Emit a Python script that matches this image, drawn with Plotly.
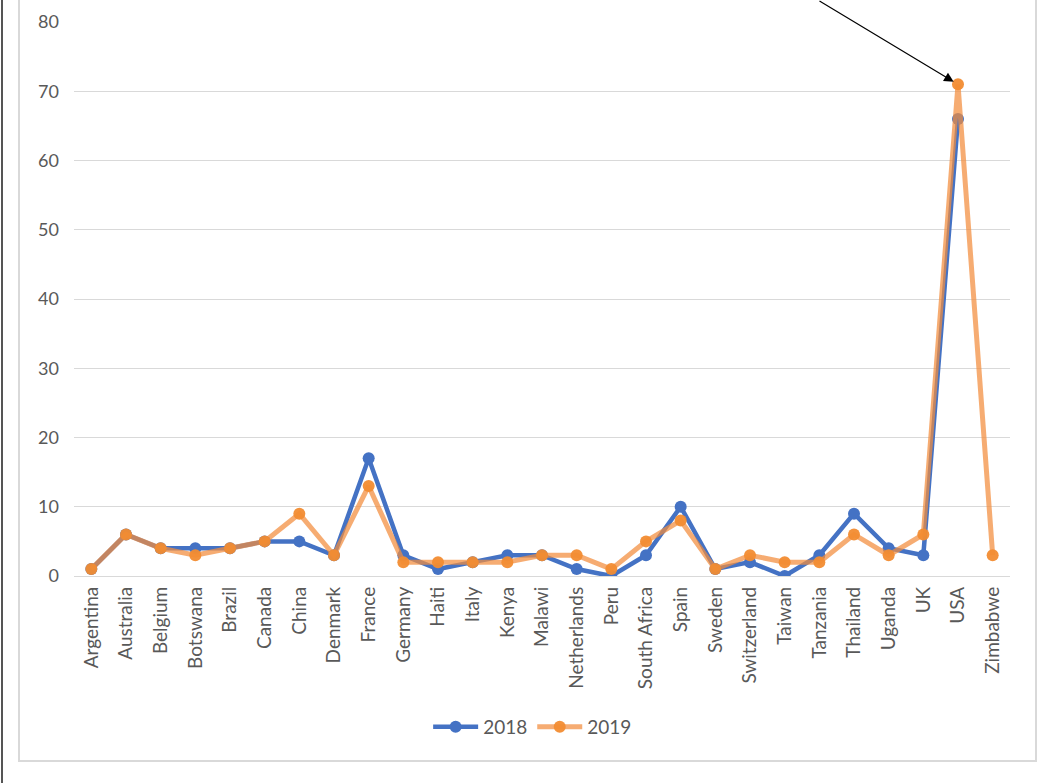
import plotly.graph_objects as go

countries = ["Argentina", "Australia", "Belgium", "Botswana", "Brazil", "Canada", "China",
             "Denmark", "France", "Germany", "Haiti", "Italy", "Kenya", "Malawi",
             "Netherlands", "Peru", "South Africa", "Spain", "Sweden", "Switzerland",
             "Taiwan", "Tanzania", "Thailand", "Uganda", "UK", "USA", "Zimbabwe"]
values_2018 = [1, 6, 4, 4, 4, 5, 5, 3, 17, 3, 1, 2, 3, 3, 1, 0, 3, 10, 1, 2, 0, 3, 9, 4, 3, 66, None]
values_2019 = [1, 6, 4, 3, 4, 5, 9, 3, 13, 2, 2, 2, 2, 3, 3, 1, 5, 8, 1, 3, 2, 2, 6, 3, 6, 71, 3]
y_ticks = [0, 10, 20, 30, 40, 50, 60, 70, 80]

W, H = 1051, 783
ML, MR, MT, MB = 74, 41, 22, 207
PW, PH = W - ML - MR, H - MT - MB

def px_x(px):
    return (px - ML) / PW

def px_y(py):
    return (H - MB - py) / PH

FONT = "Lato"
GRAY = "#595959"

fig = go.Figure()
fig.add_trace(go.Scatter(
    x=countries, y=values_2018, name="2018", mode="lines+markers",
    line=dict(color="#4472C4", width=4.5),
    marker=dict(color="#4472C4", size=12),
))
fig.add_trace(go.Scatter(
    x=countries, y=values_2019, name="2019", mode="lines+markers",
    line=dict(color="rgba(242,140,60,0.72)", width=5),
    marker=dict(color="rgba(242,140,50,0.95)", size=12),
))

fig.add_annotation(
    x="USA", y=71, xref="x", yref="y", text="", showarrow=True,
    ax=-140, ay=-85, arrowhead=2, arrowsize=1.6, arrowwidth=1.2,
    arrowcolor="black", standoff=5,
)

shapes = [
    dict(type="rect", xref="paper", yref="paper",
         x0=px_x(19), x1=px_x(1036), y0=px_y(761), y1=px_y(-10),
         line=dict(color="#D9D9D9", width=2), layer="below"),
    dict(type="line", xref="paper", yref="paper",
         x0=px_x(2), x1=px_x(2), y0=px_y(783), y1=px_y(-5),
         line=dict(color="#555555", width=2)),
]

fig.update_layout(
    width=W, height=H,
    margin=dict(l=ML, r=MR, t=MT, b=MB, autoexpand=False),
    paper_bgcolor="white", plot_bgcolor="white",
    font=dict(family=FONT, color=GRAY, size=18),
    showlegend=True,
    legend=dict(orientation="h", x=0.49, xanchor="center",
                y=px_y(727), yanchor="middle",
                font=dict(size=19, color=GRAY, family=FONT),
                itemwidth=45),
    shapes=shapes,
    xaxis=dict(
        type="category", tickangle=-90, showgrid=False, showline=False,
        ticks="", ticklabelstandoff=6, automargin=False,
        tickfont=dict(size=19, color=GRAY, family=FONT),
        range=[-0.5, len(countries) - 0.5], fixedrange=True,
    ),
    yaxis=dict(
        range=[0, 80], tickvals=y_ticks, showgrid=True, gridcolor="#D9D9D9",
        gridwidth=1, zeroline=True, zerolinecolor="#D9D9D9", zerolinewidth=1,
        showline=False, ticks="", ticklabelstandoff=14, automargin=False,
        tickfont=dict(size=18, color=GRAY, family=FONT),
    ),
)

fig.write_html("out.html")
